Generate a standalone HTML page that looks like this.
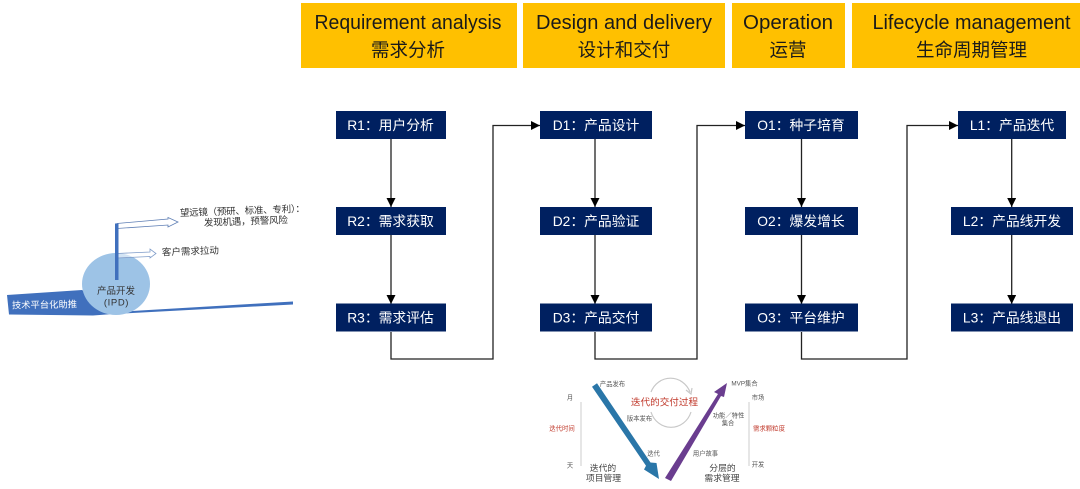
<!DOCTYPE html>
<html><head><meta charset="utf-8"><style>
html,body{margin:0;padding:0;background:#fff}
svg{display:block}
text{font-family:"Liberation Sans","Noto Sans CJK SC",sans-serif}
.h{font-size:20px;fill:#1a1a1a;text-anchor:middle}
.c{font-size:18.500px;fill:#1a1a1a;text-anchor:middle}
.n{font-size:13.800px;fill:#fff;text-anchor:middle}
.l{fill:none;stroke:#222;stroke-width:1.3}
.s{font-size:9.500px;fill:#333;text-anchor:middle}
.t{font-size:6.300px;fill:#555;text-anchor:middle}
.r{font-size:6.400px;fill:#c0392b;text-anchor:middle}
.b{font-size:8.800px;fill:#444;text-anchor:middle}
</style></head><body>
<svg width="1080" height="489" viewBox="0 0 1080 489" xmlns="http://www.w3.org/2000/svg">
<defs>
<marker id="a" markerWidth="10" markerHeight="10" refX="9" refY="4.5" orient="auto" markerUnits="userSpaceOnUse"><path d="M0 0L9 4.5L0 9Z" fill="#000"/></marker>
<filter id="f" x="-5%" y="-5%" width="110%" height="110%"><feGaussianBlur stdDeviation="0.35"/></filter>
</defs>
<rect width="1080" height="489" fill="#fff"/>

<g fill="#ffc000">
<rect x="301" y="3" width="216" height="65"/>
<rect x="523" y="3" width="202" height="65"/>
<rect x="732" y="3" width="113" height="65"/>
<rect x="852" y="3" width="228" height="65"/>
</g>
<text class="h" x="408" y="29" textLength="187" lengthAdjust="spacingAndGlyphs">Requirement analysis</text>
<text class="c" x="408" y="56.500">需求分析</text>
<text class="h" x="624" y="29" textLength="176" lengthAdjust="spacingAndGlyphs">Design and delivery</text>
<text class="c" x="624" y="56.500">设计和交付</text>
<text class="h" x="788" y="29" textLength="90" lengthAdjust="spacingAndGlyphs">Operation</text>
<text class="c" x="788" y="56.500">运营</text>
<text class="h" x="971.500" y="29" textLength="198" lengthAdjust="spacingAndGlyphs">Lifecycle management</text>
<text class="c" x="971.500" y="56.500">生命周期管理</text>

<path class="l" d="M391 139V207" marker-end="url(#a)"/>
<path class="l" d="M391 235V304" marker-end="url(#a)"/>
<path class="l" d="M391 332V359H493V125.500H540" marker-end="url(#a)"/>
<path class="l" d="M595 139V207" marker-end="url(#a)"/>
<path class="l" d="M595 235V304" marker-end="url(#a)"/>
<path class="l" d="M595 332V359H697V125.500H745" marker-end="url(#a)"/>
<path class="l" d="M801.500 139V207" marker-end="url(#a)"/>
<path class="l" d="M801.500 235V304" marker-end="url(#a)"/>
<path class="l" d="M801.500 332V359H907V125.500H958" marker-end="url(#a)"/>
<path class="l" d="M1011.700 139V207" marker-end="url(#a)"/>
<path class="l" d="M1011.700 235V304" marker-end="url(#a)"/>

<g fill="#002060">
<rect x="336" y="111" width="110" height="28"/><rect x="336" y="207" width="110" height="28"/><rect x="336" y="303.500" width="110" height="28"/>
<rect x="540" y="111" width="112" height="28"/><rect x="540" y="207" width="112" height="28"/><rect x="540" y="303.500" width="112" height="28"/>
<rect x="745" y="111" width="113" height="28"/><rect x="745" y="207" width="113" height="28"/><rect x="745" y="303.500" width="113" height="28"/>
<rect x="958" y="111" width="108" height="28"/><rect x="951" y="207" width="122" height="28"/><rect x="951" y="303.500" width="122" height="28"/>
</g>
<text class="n" x="390.500" y="130">R1：用户分析</text>
<text class="n" x="390.500" y="226">R2：需求获取</text>
<text class="n" x="390.500" y="322.500">R3：需求评估</text>
<text class="n" x="596" y="130">D1：产品设计</text>
<text class="n" x="596" y="226">D2：产品验证</text>
<text class="n" x="596" y="322.500">D3：产品交付</text>
<text class="n" x="801" y="130">O1：种子培育</text>
<text class="n" x="801" y="226">O2：爆发增长</text>
<text class="n" x="801" y="322.500">O3：平台维护</text>
<text class="n" x="1012" y="130">L1：产品迭代</text>
<text class="n" x="1012" y="226">L2：产品线开发</text>
<text class="n" x="1012" y="322.500">L3：产品线退出</text>

<!-- left diagram -->
<g filter="url(#f)">
<path d="M7 295L82 290L116 312L293 301.500V304.500L113 314L93 315.500L9 314.500Z" fill="#3f70bd"/>
<ellipse cx="116" cy="284" rx="34" ry="31" fill="#9dc3e6"/>
<path d="M117 223.500L168 219V217.500L178 222L168 227V225L117 228.500Z" fill="#fff" stroke="#5f7fb5" stroke-width=".8"/>
<path d="M117 253.500L150 252V249L156 253.500L150 258V256.500L117 258Z" fill="#fff" fill-opacity=".55" stroke="#7f9cc9" stroke-width=".8"/>
<rect x="115" y="223.500" width="3.500" height="56.500" fill="#3f70bd"/>
<text class="s" x="116" y="294" fill="#222">产品开发</text>
<text class="s" x="116.500" y="305.500" letter-spacing=".6">(IPD)</text>
<text x="12" y="308.500" font-size="9.300" fill="#fff" transform="rotate(-1 12 308.500)">技术平台化助推</text>
<text class="s" x="242.500" y="214" font-size="9" transform="rotate(-2 242.500 214)" textLength="125">望远镜（预研、标准、专利）：</text>
<text class="s" x="246" y="224.500" transform="rotate(-2 246 224.500)" textLength="84">发现机遇，预警风险</text>
<text x="162" y="255.500" font-size="9.500" fill="#333" transform="rotate(-2 162 255.500)">客户需求拉动</text>
</g>

<!-- bottom diagram -->
<g filter="url(#f)">
<path d="M592 386.700L597 383.300L650.500 462.500L656.500 463L659 479L644 469.500L646 465.700Z" fill="#2a76a8"/>
<path d="M665 478L718 394L714 392L727 383L724 397L721 396L671 481Z" fill="#6a3d8f"/>
<path d="M651 392A21 22 0 0 1 690 392" fill="none" stroke="#c8c8c8" stroke-width="1.200"/>
<path d="M691 412A21 22 0 0 1 651 412" fill="none" stroke="#c8c8c8" stroke-width="1.200"/>
<path d="M686 390L691 394L692 388" fill="none" stroke="#c8c8c8" stroke-width="1.200"/>
<text x="664.500" y="405.500" font-size="9.600" fill="#c0392b" text-anchor="middle">迭代的交付过程</text>
<text class="t" x="612.500" y="386">产品发布</text>
<text class="t" x="639.500" y="420.500">版本发布</text>
<text class="t" x="653.500" y="455.500">迭代</text>
<text class="t" x="570" y="399.500">月</text>
<text class="t" x="570" y="467.500">天</text>
<text class="r" x="562" y="430.500">迭代时间</text>
<path d="M581 402V466" stroke="#ccc" stroke-width="1"/>
<text class="b" x="603" y="471">迭代的</text>
<text class="b" x="603.500" y="481">项目管理</text>
<text class="t" x="744.500" y="385.500">MVP集合</text>
<text class="t" x="728.500" y="417.500">功能／特性</text>
<text class="t" x="728" y="425">集合</text>
<text class="t" x="705.500" y="455.500">用户故事</text>
<text class="t" x="758" y="399.500">市场</text>
<text class="t" x="758" y="466.500">开发</text>
<text class="r" x="769" y="430.500">需求颗粒度</text>
<path d="M749 402V466" stroke="#ccc" stroke-width="1"/>
<text class="b" x="722.500" y="471">分层的</text>
<text class="b" x="722" y="481">需求管理</text>
</g>
</svg>
</body></html>
